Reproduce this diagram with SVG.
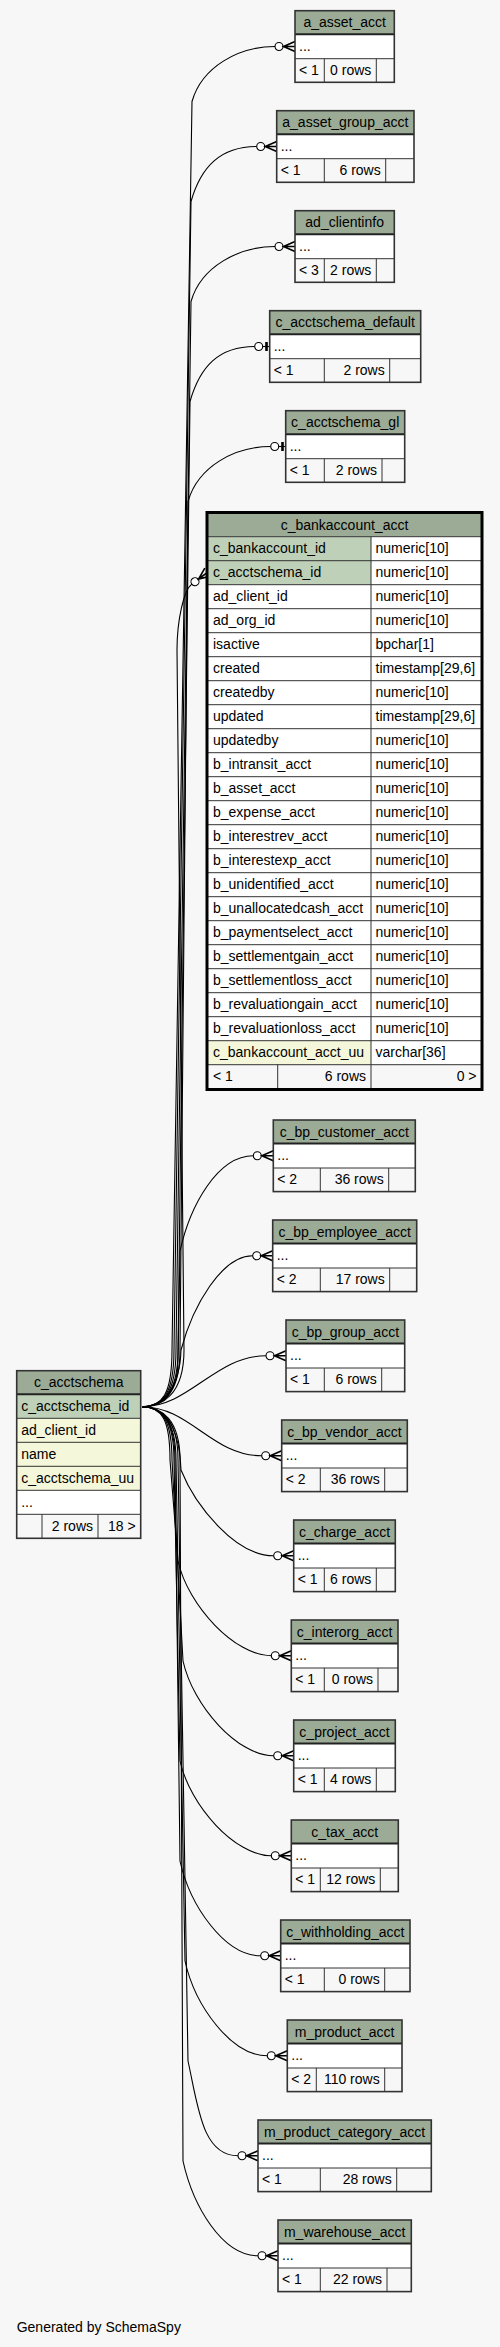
<svg xmlns="http://www.w3.org/2000/svg" width="500" height="2347" viewBox="0 0 500 2347">
<style>
text{font-family:"Liberation Sans",Arial,sans-serif;font-size:14px;fill:#000}
.c{text-anchor:middle}
.r{text-anchor:end}
.hd{fill:#9bab96}
.k{fill:#bed1b8}
.ix{fill:#f4f7da}
.w{fill:#fff}
.ft{fill:#f7f7f7}
.ln{fill:none;stroke:#333;stroke-width:1}
.ol{fill:none;stroke:#333;stroke-width:1.6}
.hl{fill:none;stroke:#222;stroke-width:2}
.e{fill:none;stroke:#000;stroke-width:1.1}
.cr{marker-end:url(#crow)}
.te{marker-end:url(#tee)}
</style>
<defs>
<marker id="crow" markerUnits="userSpaceOnUse" markerWidth="24" markerHeight="14" refX="0" refY="7" orient="auto" overflow="visible">
<circle cx="4" cy="7" r="4" fill="#fff" stroke="#000" stroke-width="1.1"/>
<path d="M20,2 L8.5,7 L20,12 M8.5,7 L20,7" fill="none" stroke="#000" stroke-width="1.6"/>
</marker>
<marker id="tee" markerUnits="userSpaceOnUse" markerWidth="16" markerHeight="14" refX="0" refY="7" orient="auto" overflow="visible">
<circle cx="4" cy="7" r="4" fill="#fff" stroke="#000" stroke-width="1.1"/>
<path d="M8,7 L15,7" fill="none" stroke="#000" stroke-width="1.1"/>
<rect x="10.5" y="2.5" width="2.6" height="9" fill="#000"/>
</marker>
</defs>
<rect width="500" height="2347" fill="#f7f7f7"/>

<g id="edges">
<path class="e cr" d="M142,1406.7 C162,1406.7 172,1395 172,1350 L192,101.5 C202,66.5 239,46.5 275,46.5"/>
<path class="e cr" d="M142,1406.7 C162,1406.7 174,1395 174,1350 L191,201.5 C201,166.5 220.7,146.5 256.7,146.5"/>
<path class="e cr" d="M142,1406.7 C162,1406.7 176,1395 176,1350 L191,301.5 C201,266.5 239,246.5 275,246.5"/>
<path class="e te" d="M142,1406.7 C162,1406.7 178,1395 178,1350 L190,401.5 C200,366.5 218.7,346.5 254.7,346.5"/>
<path class="e te" d="M142,1406.7 C162,1406.7 180,1395 180,1350 L188,501.5 C198,466.5 234.7,446.5 270.7,446.5"/>
<path class="e cr" d="M142,1406.7 C162,1406.7 184,1395 184,1350 L177,650 C177,620 183.8,590.1 191.8,584.1"/>
<path class="e cr" d="M142,1406.7 C165,1406.7 178,1390 178,1360 L180,1251 C190,1206 217.3,1155.8 253.3,1155.8"/>
<path class="e cr" d="M142,1406.7 C165,1406.7 180,1385 181,1350 C193,1305 222,1255.8 252.7,1255.8"/>
<path class="e cr" d="M142,1406.7 C190,1406.7 215,1355.8 266,1355.8"/>
<path class="e cr" d="M142,1406.7 C190,1406.7 212,1455.8 261.7,1455.8"/>
<path class="e cr" d="M142,1406.7 C172,1406.7 180,1440 181,1470 C195,1505 235,1555.8 273.7,1555.8"/>
<path class="e cr" d="M142,1406.7 C162,1406.7 170,1420 170,1460 L178,1561 C188,1606 235.3,1655.8 271.3,1655.8"/>
<path class="e cr" d="M142,1406.7 C162,1406.7 172,1420 172,1460 L183,1661 C193,1706 237.7,1755.8 273.7,1755.8"/>
<path class="e cr" d="M142,1406.7 C162,1406.7 174,1420 174,1460 L180,1761 C190,1806 235.3,1855.8 271.3,1855.8"/>
<path class="e cr" d="M142,1406.7 C162,1406.7 175,1420 175,1460 L180,1861 C190,1906 224.7,1955.8 260.7,1955.8"/>
<path class="e cr" d="M142,1406.7 C162,1406.7 176,1420 176,1460 L185,1961 C195,2006 231.3,2055.8 267.3,2055.8"/>
<path class="e cr" d="M142,1406.7 C162,1406.7 178,1420 178,1460 L188,2061 C198,2106 202,2155.8 238,2155.8"/>
<path class="e cr" d="M142,1406.7 C162,1406.7 180,1420 180,1460 L183,2161 C193,2206 222,2255.8 258,2255.8"/>
</g>

<g id="a_asset_acct" transform="translate(295,10.7)">
<rect class="hd" width="99.3" height="23.6"/><rect class="w" y="23.6" width="99.3" height="24.4"/><rect class="ft" y="48" width="99.3" height="23.6"/>
<path class="ln" d="M0,48H99.3M29.3,48V71.6M81.3,48V71.6"/><path class="hl" d="M0,23.6H99.3"/><rect class="ol" width="99.3" height="71.6"/>
<text class="c" x="49.65" y="16.5">a_asset_acct</text><text x="4" y="40">...</text><text x="4" y="64">&lt; 1</text><text class="r" x="76.3" y="64">0 rows</text>
</g>

<g id="a_asset_group_acct" transform="translate(276.7,110.7)">
<rect class="hd" width="137.3" height="23.6"/><rect class="w" y="23.6" width="137.3" height="24.4"/><rect class="ft" y="48" width="137.3" height="23.6"/>
<path class="ln" d="M0,48H137.3M47.6,48V71.6M109,48V71.6"/><path class="hl" d="M0,23.6H137.3"/><rect class="ol" width="137.3" height="71.6"/>
<text class="c" x="68.65" y="16.5">a_asset_group_acct</text><text x="4" y="40">...</text><text x="4" y="64">&lt; 1</text><text class="r" x="104" y="64">6 rows</text>
</g>

<g id="ad_clientinfo" transform="translate(295,210.7)">
<rect class="hd" width="99.3" height="23.6"/><rect class="w" y="23.6" width="99.3" height="24.4"/><rect class="ft" y="48" width="99.3" height="23.6"/>
<path class="ln" d="M0,48H99.3M29.3,48V71.6M81.3,48V71.6"/><path class="hl" d="M0,23.6H99.3"/><rect class="ol" width="99.3" height="71.6"/>
<text class="c" x="49.65" y="16.5">ad_clientinfo</text><text x="4" y="40">...</text><text x="4" y="64">&lt; 3</text><text class="r" x="76.3" y="64">2 rows</text>
</g>

<g id="c_acctschema_default" transform="translate(269.7,310.7)">
<rect class="hd" width="151" height="23.6"/><rect class="w" y="23.6" width="151" height="24.4"/><rect class="ft" y="48" width="151" height="23.6"/>
<path class="ln" d="M0,48H151M54.6,48V71.6M120,48V71.6"/><path class="hl" d="M0,23.6H151"/><rect class="ol" width="151" height="71.6"/>
<text class="c" x="75.5" y="16.5">c_acctschema_default</text><text x="4" y="40">...</text><text x="4" y="64">&lt; 1</text><text class="r" x="115" y="64">2 rows</text>
</g>

<g id="c_acctschema_gl" transform="translate(285.7,410.7)">
<rect class="hd" width="119" height="23.6"/><rect class="w" y="23.6" width="119" height="24.4"/><rect class="ft" y="48" width="119" height="23.6"/>
<path class="ln" d="M0,48H119M38.6,48V71.6M96.3,48V71.6"/><path class="hl" d="M0,23.6H119"/><rect class="ol" width="119" height="71.6"/>
<text class="c" x="59.5" y="16.5">c_acctschema_gl</text><text x="4" y="40">...</text><text x="4" y="64">&lt; 1</text><text class="r" x="91.3" y="64">2 rows</text>
</g>

<g id="c_bankaccount_acct">
<rect class="hd" x="208" y="511" width="273" height="25.7"/>
<g transform="translate(208,536.7)">
<rect class="w" width="273" height="528"/>
<rect class="k" width="163" height="48"/>
<rect class="ix" y="504" width="163" height="24"/>
<rect class="ft" y="528" width="273" height="24"/>
<path class="ln" d="M0,0H273M0,24H273M0,48H273M0,72H273M0,96H273M0,120H273M0,144H273M0,168H273M0,192H273M0,216H273M0,240H273M0,264H273M0,288H273M0,312H273M0,336H273M0,360H273M0,384H273M0,408H273M0,432H273M0,456H273M0,480H273M0,504H273M0,528H273M163,0V552M69.7,528V552"/>
<text x="5" y="16.8">c_bankaccount_id</text><text x="167.5" y="16.8">numeric[10]</text>
<text x="5" y="40.8">c_acctschema_id</text><text x="167.5" y="40.8">numeric[10]</text>
<text x="5" y="64.8">ad_client_id</text><text x="167.5" y="64.8">numeric[10]</text>
<text x="5" y="88.8">ad_org_id</text><text x="167.5" y="88.8">numeric[10]</text>
<text x="5" y="112.8">isactive</text><text x="167.5" y="112.8">bpchar[1]</text>
<text x="5" y="136.8">created</text><text x="167.5" y="136.8">timestamp[29,6]</text>
<text x="5" y="160.8">createdby</text><text x="167.5" y="160.8">numeric[10]</text>
<text x="5" y="184.8">updated</text><text x="167.5" y="184.8">timestamp[29,6]</text>
<text x="5" y="208.8">updatedby</text><text x="167.5" y="208.8">numeric[10]</text>
<text x="5" y="232.8">b_intransit_acct</text><text x="167.5" y="232.8">numeric[10]</text>
<text x="5" y="256.8">b_asset_acct</text><text x="167.5" y="256.8">numeric[10]</text>
<text x="5" y="280.8">b_expense_acct</text><text x="167.5" y="280.8">numeric[10]</text>
<text x="5" y="304.8">b_interestrev_acct</text><text x="167.5" y="304.8">numeric[10]</text>
<text x="5" y="328.8">b_interestexp_acct</text><text x="167.5" y="328.8">numeric[10]</text>
<text x="5" y="352.8">b_unidentified_acct</text><text x="167.5" y="352.8">numeric[10]</text>
<text x="5" y="376.8">b_unallocatedcash_acct</text><text x="167.5" y="376.8">numeric[10]</text>
<text x="5" y="400.8">b_paymentselect_acct</text><text x="167.5" y="400.8">numeric[10]</text>
<text x="5" y="424.8">b_settlementgain_acct</text><text x="167.5" y="424.8">numeric[10]</text>
<text x="5" y="448.8">b_settlementloss_acct</text><text x="167.5" y="448.8">numeric[10]</text>
<text x="5" y="472.8">b_revaluationgain_acct</text><text x="167.5" y="472.8">numeric[10]</text>
<text x="5" y="496.8">b_revaluationloss_acct</text><text x="167.5" y="496.8">numeric[10]</text>
<text x="5" y="520.8">c_bankaccount_acct_uu</text><text x="167.5" y="520.8">varchar[36]</text>
<text x="5" y="544.8">&lt; 1</text><text class="r" x="158" y="544.8">6 rows</text><text class="r" x="268.5" y="544.8">0 &gt;</text>
</g>
<rect x="207" y="512.5" width="275" height="577" fill="none" stroke="#000" stroke-width="3"/>
<text class="c" x="344.5" y="529.5">c_bankaccount_acct</text>
</g>

<g id="c_bp_customer_acct" transform="translate(273.3,1120)">
<rect class="hd" width="142" height="23.6"/><rect class="w" y="23.6" width="142" height="24.4"/><rect class="ft" y="48" width="142" height="23.6"/>
<path class="ln" d="M0,48H142M47,48V71.6M115.4,48V71.6"/><path class="hl" d="M0,23.6H142"/><rect class="ol" width="142" height="71.6"/>
<text class="c" x="71" y="16.5">c_bp_customer_acct</text><text x="4" y="40">...</text><text x="4" y="64">&lt; 2</text><text class="r" x="110.4" y="64">36 rows</text>
</g>

<g id="c_bp_employee_acct" transform="translate(272.7,1220)">
<rect class="hd" width="144" height="23.6"/><rect class="w" y="23.6" width="144" height="24.4"/><rect class="ft" y="48" width="144" height="23.6"/>
<path class="ln" d="M0,48H144M47.6,48V71.6M117,48V71.6"/><path class="hl" d="M0,23.6H144"/><rect class="ol" width="144" height="71.6"/>
<text class="c" x="72" y="16.5">c_bp_employee_acct</text><text x="4" y="40">...</text><text x="4" y="64">&lt; 2</text><text class="r" x="112" y="64">17 rows</text>
</g>

<g id="c_bp_group_acct" transform="translate(286,1320)">
<rect class="hd" width="118.7" height="23.6"/><rect class="w" y="23.6" width="118.7" height="24.4"/><rect class="ft" y="48" width="118.7" height="23.6"/>
<path class="ln" d="M0,48H118.7M38.3,48V71.6M95.7,48V71.6"/><path class="hl" d="M0,23.6H118.7"/><rect class="ol" width="118.7" height="71.6"/>
<text class="c" x="59.35" y="16.5">c_bp_group_acct</text><text x="4" y="40">...</text><text x="4" y="64">&lt; 1</text><text class="r" x="90.7" y="64">6 rows</text>
</g>

<g id="c_acctschema" transform="translate(16.7,1370.7)">
<rect class="hd" width="124" height="23.6"/>
<rect class="k" y="23.6" width="124" height="24"/>
<rect class="ix" y="47.6" width="124" height="72"/>
<rect class="w" y="119.6" width="124" height="24"/>
<rect class="ft" y="143.6" width="124" height="24"/>
<path class="ln" d="M0,47.6H124M0,71.6H124M0,95.6H124M0,119.6H124M0,143.6H124M25.3,143.6V167.6M81.3,143.6V167.6"/>
<path class="hl" d="M0,23.6H124"/><rect class="ol" width="124" height="167.6"/>
<text class="c" x="62" y="16.5">c_acctschema</text>
<text x="4.5" y="40.4">c_acctschema_id</text>
<text x="4.5" y="64.4">ad_client_id</text>
<text x="4.5" y="88.4">name</text>
<text x="4.5" y="112.4">c_acctschema_uu</text>
<text x="4.5" y="136.4">...</text>
<text class="r" x="76.3" y="160.4">2 rows</text><text class="r" x="119" y="160.4">18 &gt;</text>
</g>

<g id="c_bp_vendor_acct" transform="translate(281.7,1420)">
<rect class="hd" width="125.6" height="23.6"/><rect class="w" y="23.6" width="125.6" height="24.4"/><rect class="ft" y="48" width="125.6" height="23.6"/>
<path class="ln" d="M0,48H125.6M38.6,48V71.6M103,48V71.6"/><path class="hl" d="M0,23.6H125.6"/><rect class="ol" width="125.6" height="71.6"/>
<text class="c" x="62.8" y="16.5">c_bp_vendor_acct</text><text x="4" y="40">...</text><text x="4" y="64">&lt; 2</text><text class="r" x="98" y="64">36 rows</text>
</g>

<g id="c_charge_acct" transform="translate(293.7,1520)">
<rect class="hd" width="101.6" height="23.6"/><rect class="w" y="23.6" width="101.6" height="24.4"/><rect class="ft" y="48" width="101.6" height="23.6"/>
<path class="ln" d="M0,48H101.6M30.6,48V71.6M82.6,48V71.6"/><path class="hl" d="M0,23.6H101.6"/><rect class="ol" width="101.6" height="71.6"/>
<text class="c" x="50.8" y="16.5">c_charge_acct</text><text x="4" y="40">...</text><text x="4" y="64">&lt; 1</text><text class="r" x="77.6" y="64">6 rows</text>
</g>

<g id="c_interorg_acct" transform="translate(291.3,1620)">
<rect class="hd" width="106.7" height="23.6"/><rect class="w" y="23.6" width="106.7" height="24.4"/><rect class="ft" y="48" width="106.7" height="23.6"/>
<path class="ln" d="M0,48H106.7M33,48V71.6M86.7,48V71.6"/><path class="hl" d="M0,23.6H106.7"/><rect class="ol" width="106.7" height="71.6"/>
<text class="c" x="53.35" y="16.5">c_interorg_acct</text><text x="4" y="40">...</text><text x="4" y="64">&lt; 1</text><text class="r" x="81.7" y="64">0 rows</text>
</g>

<g id="c_project_acct" transform="translate(293.7,1720)">
<rect class="hd" width="101.6" height="23.6"/><rect class="w" y="23.6" width="101.6" height="24.4"/><rect class="ft" y="48" width="101.6" height="23.6"/>
<path class="ln" d="M0,48H101.6M30.6,48V71.6M82.6,48V71.6"/><path class="hl" d="M0,23.6H101.6"/><rect class="ol" width="101.6" height="71.6"/>
<text class="c" x="50.8" y="16.5">c_project_acct</text><text x="4" y="40">...</text><text x="4" y="64">&lt; 1</text><text class="r" x="77.6" y="64">4 rows</text>
</g>

<g id="c_tax_acct" transform="translate(291.3,1820)">
<rect class="hd" width="107" height="23.6"/><rect class="w" y="23.6" width="107" height="24.4"/><rect class="ft" y="48" width="107" height="23.6"/>
<path class="ln" d="M0,48H107M29,48V71.6M89,48V71.6"/><path class="hl" d="M0,23.6H107"/><rect class="ol" width="107" height="71.6"/>
<text class="c" x="53.5" y="16.5">c_tax_acct</text><text x="4" y="40">...</text><text x="4" y="64">&lt; 1</text><text class="r" x="84" y="64">12 rows</text>
</g>

<g id="c_withholding_acct" transform="translate(280.7,1920)">
<rect class="hd" width="129.3" height="23.6"/><rect class="w" y="23.6" width="129.3" height="24.4"/><rect class="ft" y="48" width="129.3" height="23.6"/>
<path class="ln" d="M0,48H129.3M43.6,48V71.6M104,48V71.6"/><path class="hl" d="M0,23.6H129.3"/><rect class="ol" width="129.3" height="71.6"/>
<text class="c" x="64.65" y="16.5">c_withholding_acct</text><text x="4" y="40">...</text><text x="4" y="64">&lt; 1</text><text class="r" x="99" y="64">0 rows</text>
</g>

<g id="m_product_acct" transform="translate(287.3,2020)">
<rect class="hd" width="114.7" height="23.6"/><rect class="w" y="23.6" width="114.7" height="24.4"/><rect class="ft" y="48" width="114.7" height="23.6"/>
<path class="ln" d="M0,48H114.7M29,48V71.6M97.4,48V71.6"/><path class="hl" d="M0,23.6H114.7"/><rect class="ol" width="114.7" height="71.6"/>
<text class="c" x="57.35" y="16.5">m_product_acct</text><text x="4" y="40">...</text><text x="4" y="64">&lt; 2</text><text class="r" x="92.4" y="64">110 rows</text>
</g>

<g id="m_product_category_acct" transform="translate(258,2120)">
<rect class="hd" width="173.3" height="23.6"/><rect class="w" y="23.6" width="173.3" height="24.4"/><rect class="ft" y="48" width="173.3" height="23.6"/>
<path class="ln" d="M0,48H173.3M62.3,48V71.6M138.7,48V71.6"/><path class="hl" d="M0,23.6H173.3"/><rect class="ol" width="173.3" height="71.6"/>
<text class="c" x="86.65" y="16.5">m_product_category_acct</text><text x="4" y="40">...</text><text x="4" y="64">&lt; 1</text><text class="r" x="133.7" y="64">28 rows</text>
</g>

<g id="m_warehouse_acct" transform="translate(278,2220)">
<rect class="hd" width="133.3" height="23.6"/><rect class="w" y="23.6" width="133.3" height="24.4"/><rect class="ft" y="48" width="133.3" height="23.6"/>
<path class="ln" d="M0,48H133.3M42.3,48V71.6M109,48V71.6"/><path class="hl" d="M0,23.6H133.3"/><rect class="ol" width="133.3" height="71.6"/>
<text class="c" x="66.65" y="16.5">m_warehouse_acct</text><text x="4" y="40">...</text><text x="4" y="64">&lt; 1</text><text class="r" x="104" y="64">22 rows</text>
</g>

<text x="16.7" y="2331.5">Generated by SchemaSpy</text>
</svg>
